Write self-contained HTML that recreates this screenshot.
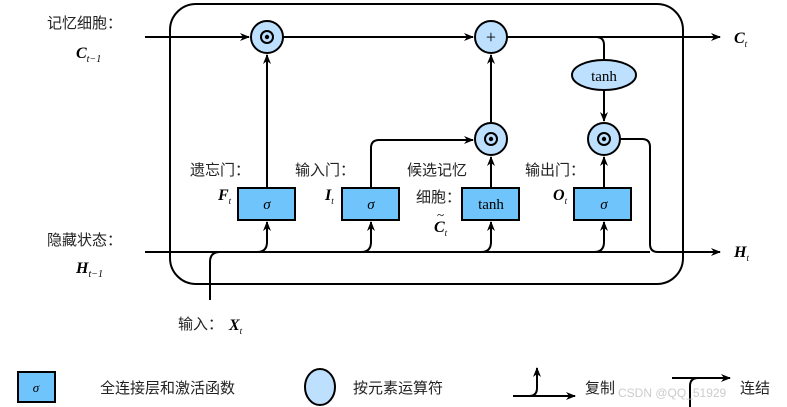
<!DOCTYPE html>
<html><head><meta charset="utf-8"><style>
body{margin:0;background:#fff;}
svg{display:block;font-family:"Liberation Sans","Noto Sans CJK SC",sans-serif;}
.m{font-family:"Liberation Serif",serif;font-style:italic;font-weight:bold;}
.s{font-family:"Liberation Serif",serif;font-style:italic;}
.t{font-family:"Liberation Serif",serif;}
</style></head><body>
<svg width="787" height="407" viewBox="0 0 787 407">
<defs><marker id="a" markerWidth="10" markerHeight="8" refX="9" refY="4" orient="auto" markerUnits="userSpaceOnUse"><path d="M0,0 L10,4 L0,8 L3,4z" fill="#000"/></marker></defs>
<g fill="none" stroke="#000" stroke-width="2">
<rect x="170" y="4" width="513" height="280" rx="26"/>
<path d="M145,37 H249" marker-end="url(#a)"/>
<path d="M283,37 H473" marker-end="url(#a)"/>
<path d="M507,37 H720" marker-end="url(#a)"/>
<path d="M540,37 H596 Q604,37 604,45 V60"/>
<path d="M604,90 V121" marker-end="url(#a)"/>
<path d="M267,188 V55" marker-end="url(#a)"/>
<path d="M371,188 V148 Q371,140 379,140 H473" marker-end="url(#a)"/>
<path d="M491,188 V157" marker-end="url(#a)"/>
<path d="M491,123 V55" marker-end="url(#a)"/>
<path d="M604,188 V157" marker-end="url(#a)"/>
<path d="M620,139 H642 Q650,139 650,147 V244 Q650,252 658,252 H720" marker-end="url(#a)"/>
<path d="M145,252 H650"/>
<path d="M210,300 V262 Q210,252 220,252"/>
<path d="M257,252 Q267,252 267,242 V222" marker-end="url(#a)"/>
<path d="M361,252 Q371,252 371,242 V222" marker-end="url(#a)"/>
<path d="M481,252 Q491,252 491,242 V222" marker-end="url(#a)"/>
<path d="M594,252 Q604,252 604,242 V222" marker-end="url(#a)"/>
</g>
<g stroke="#000" stroke-width="2" fill="#bde0ff">
<circle cx="267" cy="37" r="16"/><circle cx="491" cy="37" r="16"/>
<circle cx="491" cy="139" r="16"/><circle cx="604" cy="139" r="16"/>
<ellipse cx="604" cy="75" rx="32" ry="15"/>
</g>
<g stroke="#000" stroke-width="2" fill="#70c4fc">
<rect x="238" y="188" width="57" height="32"/><rect x="342" y="188" width="57" height="32"/>
<rect x="462" y="188" width="57" height="32"/><rect x="574" y="188" width="57" height="32"/>
</g>
<g fill="none" stroke="#000" stroke-width="2">
<circle cx="267" cy="37" r="6"/><circle cx="491" cy="139" r="6"/><circle cx="604" cy="139" r="6"/>
</g>
<g fill="#000"><circle cx="267" cy="37" r="2.2"/><circle cx="491" cy="139" r="2.2"/><circle cx="604" cy="139" r="2.2"/></g>
<text x="491" y="43" text-anchor="middle" class="t" font-size="18">+</text>
<text x="604" y="81" text-anchor="middle" class="t" font-size="15">tanh</text>
<g font-size="15" class="s" text-anchor="middle"><text x="267" y="209">σ</text><text x="371" y="209">σ</text><text x="604" y="209">σ</text></g>
<text x="491" y="209" text-anchor="middle" class="t" font-size="15">tanh</text>
<g font-size="15" fill="#222">
<text x="47" y="28">记忆细胞：</text>
<text x="47" y="245">隐藏状态：</text>
<text x="190" y="175">遗忘门：</text>
<text x="295" y="175">输入门：</text>
<text x="407" y="175">候选记忆</text>
<text x="416" y="202">细胞：</text>
<text x="525" y="175">输出门：</text>
<text x="178" y="329">输入：</text>
<text x="100" y="393">全连接层和激活函数</text>
<text x="353" y="393">按元素运算符</text>
<text x="585" y="393">复制</text>
<text x="740" y="393">连结</text>
</g>
<g class="m" font-size="16">
<text x="76" y="58">C<tspan font-size="10" font-weight="normal" dy="4">t−1</tspan></text>
<text x="76" y="273">H<tspan font-size="10" font-weight="normal" dy="4">t−1</tspan></text>
<text x="734" y="43">C<tspan font-size="9" dy="4" font-weight="normal">t</tspan></text>
<text x="734" y="257">H<tspan font-size="9" dy="4" font-weight="normal">t</tspan></text>
<text x="218" y="200">F<tspan font-size="9" dy="4" font-weight="normal">t</tspan></text>
<text x="325" y="200">I<tspan font-size="9" dy="4" font-weight="normal">t</tspan></text>
<text x="553" y="200">O<tspan font-size="9" dy="4" font-weight="normal">t</tspan></text>
<text x="434" y="232">C<tspan font-size="9" dy="4" font-weight="normal">t</tspan></text>
<text x="437" y="219" font-weight="normal" font-style="normal" font-size="13">~</text>
<text x="229" y="330">X<tspan font-size="9" dy="4" font-weight="normal">t</tspan></text>
</g>
<rect x="18" y="372" width="37" height="30" fill="#70c4fc" stroke="#000" stroke-width="2"/>
<text x="36" y="392" text-anchor="middle" class="s" font-size="13">σ</text>
<ellipse cx="220" cy="387" rx="0" ry="0"/>
<ellipse cx="320" cy="387" rx="15" ry="18" fill="#bde0ff" stroke="#000" stroke-width="2"/>
<g fill="none" stroke="#000" stroke-width="2">
<path d="M513,396 H575" marker-end="url(#a)"/>
<path d="M529,396 Q537,396 537,388 V368" marker-end="url(#a)"/>
<path d="M672,378 H730" marker-end="url(#a)"/>
<path d="M698,378 Q690,378 690,386 V407"/>
</g>
<text x="618" y="397" font-size="12" fill="#ccc">CSDN @QQ_51929</text>
</svg>
</body></html>
